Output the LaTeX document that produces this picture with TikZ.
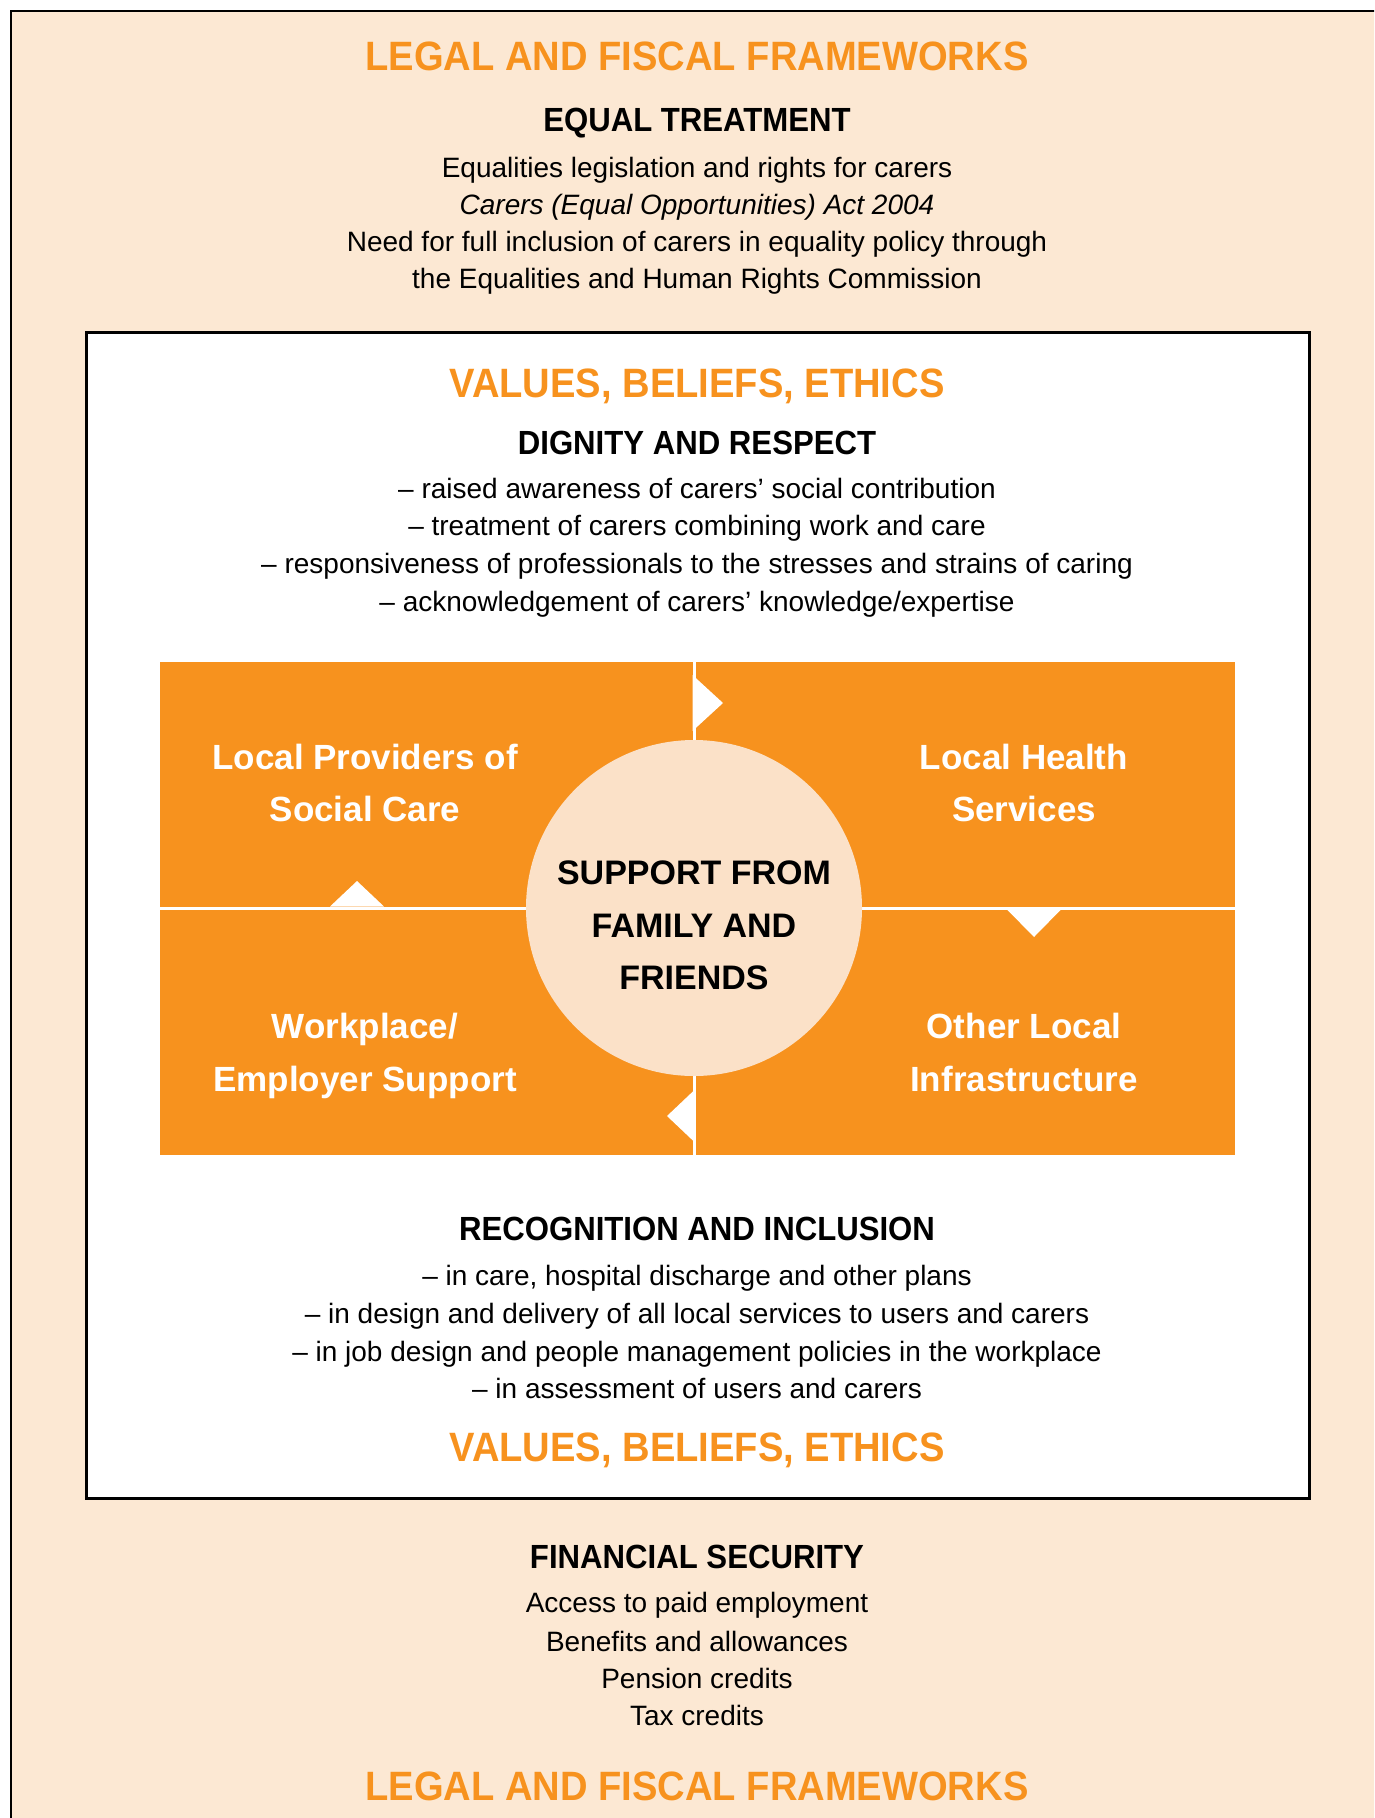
\documentclass[tikz,border=0pt]{standalone}
\usepackage{fontspec}
\setmainfont{Liberation Sans}
\newfontfamily\headfont[FakeStretch=0.93]{Liberation Sans}
\definecolor{peach}{HTML}{FCE8D3}
\definecolor{hub}{HTML}{FBE1C8}
\definecolor{carrot}{HTML}{F7921E}
\tikzset{
  body/.style={anchor=base, inner sep=0pt, font=\fontsize{28}{34}\selectfont},
  bodyit/.style={body, font=\fontsize{28}{34}\selectfont\itshape},
  heading/.style={anchor=base, inner sep=0pt, font=\headfont\bfseries\fontsize{33.5}{40}\selectfont},
  frametitle/.style={anchor=base, inner sep=0pt, text=carrot, font=\headfont\bfseries\fontsize{41}{48}\selectfont},
  blocktext/.style={anchor=base, inner sep=0pt, text=white, font=\bfseries\fontsize{35}{42}\selectfont},
  hubtext/.style={anchor=base, inner sep=0pt, font=\bfseries\fontsize{34}{40}\selectfont},
  notch/.style={fill=white, draw=none},
}
\begin{document}
\begin{tikzpicture}[x=1pt,y=-1pt]
\useasboundingbox (0,0) rectangle (1374,1818);
\clip (0,0) rectangle (1374,1818);
\fill[white] (0,0) rectangle (1374,1818);

% outer frame: legal and fiscal frameworks
\draw[line width=2.5pt, fill=peach] (11,11) rectangle (1400,1850);

\node[frametitle] (legaltop) at (697,70) {LEGAL AND FISCAL FRAMEWORKS};
\node[heading] (equal) at (697,131) {EQUAL TREATMENT};
\node[body] (eq1) at (697,177) {Equalities legislation and rights for carers};
\node[bodyit] (eq2) at (697,214) {Carers (Equal Opportunities) Act 2004};
\node[body] (eq3) at (697,251) {Need for full inclusion of carers in equality policy through};
\node[body] (eq4) at (697,288) {the Equalities and Human Rights Commission};

% inner frame: values, beliefs, ethics
\draw[line width=3pt, fill=white] (86,332) rectangle (1309,1498);

\node[frametitle] (valuestop) at (697,397) {VALUES, BELIEFS, ETHICS};
\node[heading] (dignity) at (697,454) {DIGNITY AND RESPECT};
\node[body] (dg1) at (697,498) {-- raised awareness of carers’ social contribution};
\node[body] (dg2) at (697,535) {-- treatment of carers combining work and care};
\node[body] (dg3) at (697,573) {-- responsiveness of professionals to the stresses and strains of caring};
\node[body] (dg4) at (697,611) {-- acknowledgement of carers’ knowledge/expertise};

% the four local support blocks
\fill[carrot] (160,662) rectangle (1235,1155);
\draw[white, line width=3pt] (694,662) -- (694,1155);
\draw[white, line width=3pt] (160,908) -- (1235,908);

% notches showing the cycle between the blocks
\fill[notch] (692.5,675) -- (723,703) -- (692.5,731) -- cycle;
\fill[notch] (1007,909.5) -- (1034,937) -- (1061,909.5) -- cycle;
\fill[notch] (695.5,1089) -- (667,1116) -- (695.5,1143) -- cycle;
\fill[notch] (330,906.5) -- (357,881) -- (384,906.5) -- cycle;

\node[blocktext] (lp1) at (365,769) {Local Providers of};
\node[blocktext] (lp2) at (365,821) {Social Care};
\node[blocktext] (lh1) at (1024,769) {Local Health};
\node[blocktext] (lh2) at (1024,821) {Services};
\node[blocktext] (wp1) at (365,1038) {Workplace/};
\node[blocktext] (wp2) at (365,1091) {Employer Support};
\node[blocktext] (ol1) at (1024,1038) {Other Local};
\node[blocktext] (ol2) at (1024,1091) {Infrastructure};

% central hub
\node[circle, fill=hub, minimum size=336pt, inner sep=0pt] (hub) at (694,908) {};
\node[hubtext] (hub1) at (694,884) {SUPPORT FROM};
\node[hubtext] (hub2) at (694,937) {FAMILY AND};
\node[hubtext] (hub3) at (694,989) {FRIENDS};

\node[heading] (recog) at (697,1240) {RECOGNITION AND INCLUSION};
\node[body] (rc1) at (697,1285) {-- in care, hospital discharge and other plans};
\node[body] (rc2) at (697,1323) {-- in design and delivery of all local services to users and carers};
\node[body] (rc3) at (697,1361) {-- in job design and people management policies in the workplace};
\node[body] (rc4) at (697,1398) {-- in assessment of users and carers};
\node[frametitle] (valuesbot) at (697,1461) {VALUES, BELIEFS, ETHICS};

\node[heading] (finance) at (697,1568) {FINANCIAL SECURITY};
\node[body] (fn1) at (697,1612) {Access to paid employment};
\node[body] (fn2) at (697,1651) {Benefits and allowances};
\node[body] (fn3) at (697,1688) {Pension credits};
\node[body] (fn4) at (697,1725) {Tax credits};
\node[frametitle] (legalbot) at (697,1800) {LEGAL AND FISCAL FRAMEWORKS};
\end{tikzpicture}
\end{document}
